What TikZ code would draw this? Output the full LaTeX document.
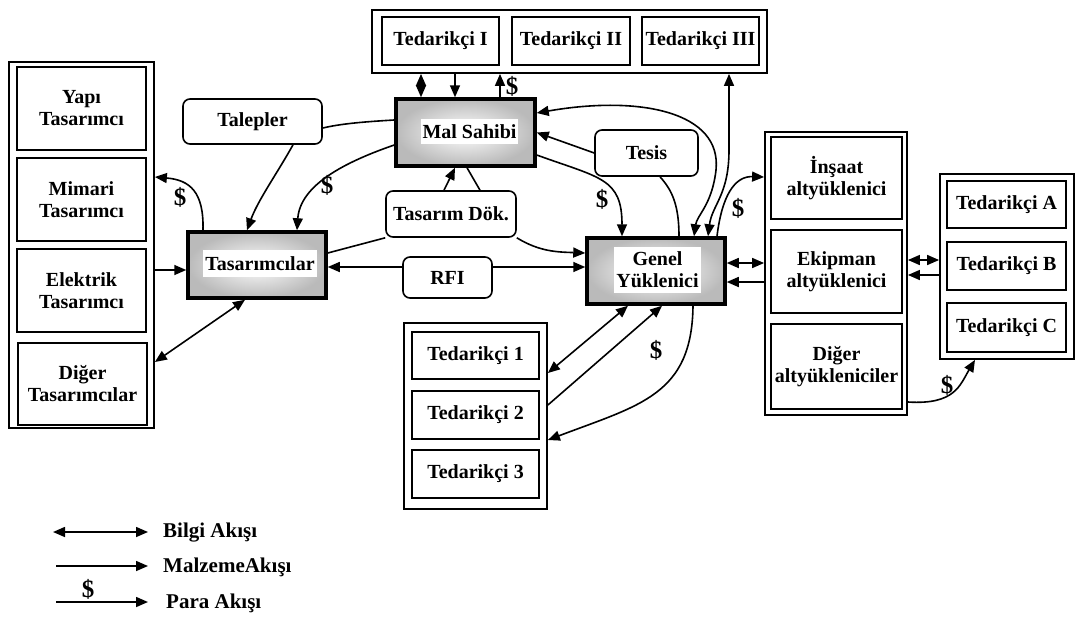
\documentclass[tikz,border=0pt]{standalone}
\usepackage{fontspec}
\setmainfont{Liberation Serif}
\usetikzlibrary{arrows.meta}
\begin{document}
\begin{tikzpicture}[x=1pt,y=-1pt,
  every node/.style={font=\bfseries\fontsize{20}{22}\selectfont, align=center, inner sep=0pt},
  >={Triangle[length=12pt,width=10pt]},
  box/.style={draw, line width=1.8pt},
  grp/.style={draw, line width=1.8pt},
  soft/.style={draw, line width=1.6pt, rounded corners=7pt},
  hub/.style={draw, line width=3.5pt, inner color=white, outer color=black!27},
  tag/.style={fill=white, inner sep=2pt},
  link/.style={line width=1.6pt},
  money/.style={font=\bfseries\fontsize{25}{26}\selectfont},
  legend/.style={anchor=west, font=\bfseries\fontsize{21}{22}\selectfont}]
\useasboundingbox (0,0) rectangle (1081,635);

% suppliers of the owner
\node[grp, minimum width=395pt, minimum height=63pt] (topgrp) at (569.5,41.5) {};
\node[box, minimum width=117pt, minimum height=48pt] (tdI) at (440.5,41) {Tedarikçi I};
\node[box, minimum width=118pt, minimum height=48pt] (tdII) at (571,41) {Tedarikçi II};
\node[box, minimum width=117pt, minimum height=48pt] (tdIII) at (700.5,41) {Tedarikçi III};

% main parties
\node[hub, minimum width=139pt, minimum height=67pt] (mal) at (465.5,132.5) {};
\node[tag, minimum width=93pt, minimum height=25pt] (malT) at (469.5,131.5) {Mal Sahibi};
\node[hub, minimum width=138pt, minimum height=66pt] (tas) at (257,265) {};
\node[tag, minimum width=110pt, minimum height=27pt] (tasT) at (260,263.5) {Tasarımcılar};
\node[hub, minimum width=138pt, minimum height=66pt] (genel) at (656,271) {};
\node[tag, minimum width=83pt, minimum height=46pt] (genelT) at (657.5,270) {Genel\\Yüklenici};

% documents and requests
\node[soft, minimum width=139pt, minimum height=45pt] (talep) at (252.5,121.5) {Talepler};
\node[soft, minimum width=103pt, minimum height=46pt] (tesis) at (646.5,153) {Tesis};
\node[soft, minimum width=130pt, minimum height=46pt] (tdok) at (451,214) {Tasarım Dök.};
\node[soft, minimum width=89pt, minimum height=41pt] (rfi) at (447.5,277.5) {RFI};

% designers
\node[grp, minimum width=145pt, minimum height=366pt] (leftgrp) at (81.5,245) {};
\node[box, minimum width=129pt, minimum height=83pt] (yapi) at (81.5,108.5) {Yapı\\Tasarımcı};
\node[box, minimum width=129pt, minimum height=83pt] (mimari) at (81.5,199.5) {Mimari\\Tasarımcı};
\node[box, minimum width=129pt, minimum height=83pt] (elek) at (81.5,290.5) {Elektrik\\Tasarımcı};
\node[box, minimum width=129pt, minimum height=82pt] (diger) at (82.5,384) {Diğer\\Tasarımcılar};

% suppliers of the contractor
\node[grp, minimum width=143pt, minimum height=186pt] (tgrp) at (475.5,416) {};
\node[box, minimum width=127pt, minimum height=47pt] (t1) at (475.5,355.5) {Tedarikçi 1};
\node[box, minimum width=127pt, minimum height=48pt] (t2) at (475.5,415) {Tedarikçi 2};
\node[box, minimum width=127pt, minimum height=48pt] (t3) at (475.5,474) {Tedarikçi 3};

% subcontractors
\node[grp, minimum width=142pt, minimum height=283pt] (agrp) at (836,273.5) {};
\node[box, minimum width=131pt, minimum height=82pt] (insaat) at (836.5,178) {İnşaat\\altyüklenici};
\node[box, minimum width=131pt, minimum height=83pt] (ekip) at (836.5,271.5) {Ekipman\\altyüklenici};
\node[box, minimum width=131pt, minimum height=85pt] (dalt) at (836.5,366.5) {Diğer\\altyükleniciler};

% suppliers of the subcontractors
\node[grp, minimum width=134pt, minimum height=185pt] (bgrp) at (1007,266.5) {};
\node[box, minimum width=119pt, minimum height=47pt] (tA) at (1006.5,204.5) {Tedarikçi A};
\node[box, minimum width=119pt, minimum height=48pt] (tB) at (1006.5,266) {Tedarikçi B};
\node[box, minimum width=119pt, minimum height=49pt] (tC) at (1006.5,327.5) {Tedarikçi C};

% owner <-> its suppliers
\draw[link,<->] (topgrp.south -| 421,0) -- (mal.north -| 421,0);
\draw[link,->] (topgrp.south -| 455,0) -- (mal.north -| 455,0);
\draw[link,->] (mal.north -| 500,0) -- (topgrp.south -| 500,0);
\node[money] (d1) at (512,86) {\$};

% owner <-> contractor
\draw[link,<->] (mal.east |- 0,113) .. controls (640,95) and (722,112) .. (716,170)
  .. controls (712,205) and (697,215) .. (genel.north -| 694,0);
\draw[link,<->] (topgrp.south -| 729,0) -- (729,150)
  .. controls (729,195) and (712,205) .. (genel.north -| 708,0);
\draw[link,->] (tesis.west) -- (mal.east);
\draw[link] (genel.north -| 679,0) .. controls (679,205) and (672,190) .. (tesis.south -| 660,0);
\draw[link,->] (mal.east |- 0,155) .. controls (600,178) and (622,178) .. (genel.north -| 622,0);
\node[money] (d2) at (602,199) {\$};

% contractor -> subcontractors
\draw[link,->] (genel.north -| 717,0) .. controls (722,195) and (735,176) .. (agrp.west |- 0,177);
\node[money] (d3) at (738,208) {\$};
\draw[link,<->] (genel.east |- 0,263) -- (agrp.west |- 0,263);
\draw[link,->] (agrp.west |- 0,282) -- (genel.east |- 0,282);
\draw[link,<->] (agrp.east |- 0,260) -- (bgrp.west |- 0,260);
\draw[link,->] (bgrp.west |- 0,275) -- (agrp.east |- 0,275);
\draw[link,->] (agrp.east |- 0,402) .. controls (955,405) and (960,385) .. (bgrp.south -| 975,0);
\node[money] (d4) at (947,385) {\$};

% owner <-> designers
\draw[link] (mal.west |- 0,120) .. controls (360,122) and (340,124) .. (talep.east |- 0,128);
\draw[link,->] (talep.south -| 293,0) .. controls (278,172) and (258,200) .. (tas.north -| 247,0);
\draw[link,->] (mal.west |- 0,145) .. controls (345,162) and (300,185) .. (tas.north -| 297,0);
\node[money] (d5) at (327,185) {\$};
\draw[link,->] (tas.north -| 203,0) .. controls (204,192) and (190,180) .. (leftgrp.east |- 0,177);
\node[money] (d6) at (180,197) {\$};
\draw[link,->] (leftgrp.east |- 0,270) -- (tas.west |- 0,270);
\draw[link,<->] (tas.south -| 245,0) -- (leftgrp.east |- 0,362);

% design documents and RFI
\draw[link] (tas.east |- 0,253) -- (tdok.south west);
\draw[link,->] (tdok.north -| 444,0) -- (mal.south -| 455,0);
\draw[link] (mal.south -| 467,0) -- (tdok.north -| 480,0);
\draw[link,->] (tdok.south east) .. controls (540,252) and (558,252) .. (genel.west |- 0,253);
\draw[link,->] (rfi.west |- 0,267) -- (tas.east |- 0,267);
\draw[link,->] (rfi.east |- 0,267) -- (genel.west |- 0,267);

% contractor <-> its suppliers
\draw[link,<->] (genel.south -| 628,0) -- (tgrp.east |- 0,373);
\draw[link,->] (tgrp.east |- 0,405) -- (genel.south -| 662,0);
\draw[link,->] (genel.south -| 693,0) .. controls (692,395) and (640,405) .. (tgrp.east |- 0,440);
\node[money] (d7) at (656,350) {\$};

% legend
\coordinate (l1a) at (53,532); \coordinate (l1b) at (148,532);
\coordinate (l2a) at (56,566); \coordinate (l2b) at (148,566);
\coordinate (l3a) at (56,602); \coordinate (l3b) at (148,602);
\draw[link,<->] (l1a) -- (l1b);
\draw[link,->] (l2a) -- (l2b);
\draw[link,->] (l3a) -- (l3b);
\node[money] (d8) at (88,589) {\$};
\node[legend] (lg1) at (163,533) {Bilgi Akışı};
\node[legend] (lg2) at (163,567) {MalzemeAkışı};
\node[legend] (lg3) at (166,603) {Para Akışı};
\end{tikzpicture}
\end{document}
